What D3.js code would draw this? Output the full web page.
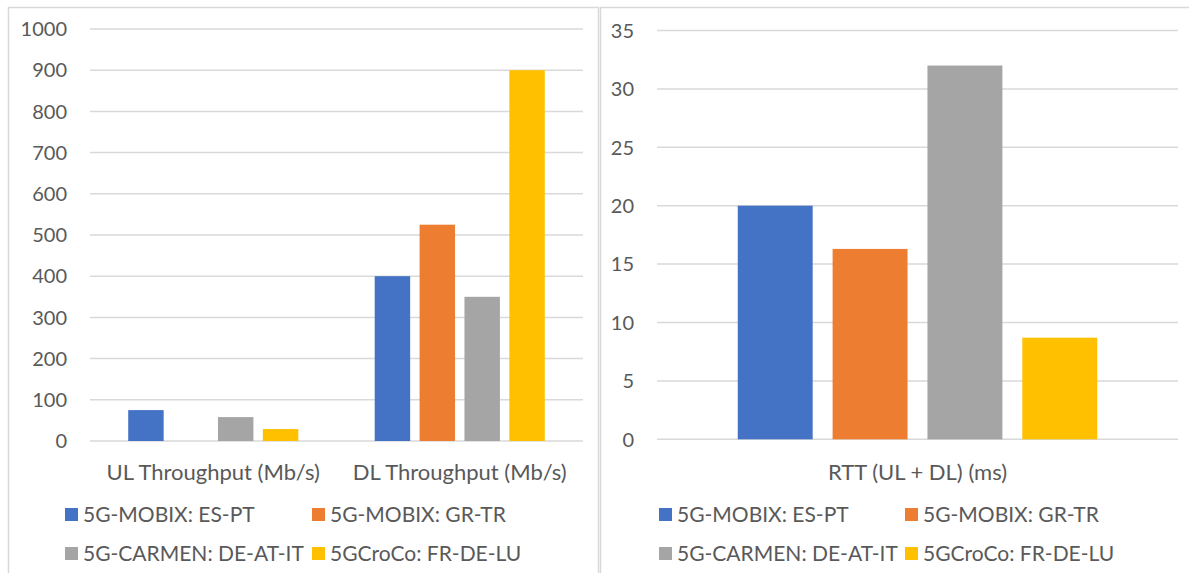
<!DOCTYPE html>
<meta charset='utf-8'>
<body style='margin:0;background:#fff'>
<script src='https://d3js.org/d3.v7.min.js'></script>
<script>
  // data
  const series = ['5G-MOBIX: ES-PT', '5G-MOBIX: GR-TR', '5G-CARMEN: DE-AT-IT', '5GCroCo: FR-DE-LU'];
  const colors = ['#4472C4', '#ED7D31', '#A5A5A5', '#FFC000'];

  const thrCategories = ['UL Throughput (Mb/s)', 'DL Throughput (Mb/s)'];
  const ulValues = [75, 0, 58, 29];
  const dlValues = [400, 525, 350, 900];
  const thrTicks = [0, 100, 200, 300, 400, 500, 600, 700, 800, 900, 1000];

  const rttCategories = ['RTT (UL + DL) (ms)'];
  const rttValues = [20, 16.3, 32, 8.7];
  const rttTicks = [0, 5, 10, 15, 20, 25, 30, 35];

  const W = 1189, H = 573;
  const font = 'Lato, "Open Sans", sans-serif';
  const textColor = '#595959';
  const gridColor = '#d9d9d9';

  const svg = d3.select('body').append('svg')
    .attr('width', W)
    .attr('height', H)
    .style('display', 'block')
    .style('font-family', font);

  // panel frames
  svg.append('rect')
    .attr('x', 8.5).attr('y', 7.5)
    .attr('width', 590).attr('height', 580)
    .attr('fill', 'none').attr('stroke', gridColor).attr('stroke-width', 1.5);
  svg.append('rect')
    .attr('x', 600.5).attr('y', 7.5)
    .attr('width', 600).attr('height', 580)
    .attr('fill', 'none').attr('stroke', gridColor).attr('stroke-width', 1.5);

  function panel(opts) {
    const { categories, values, ticks, yDomain, yRange, xRange, labelX, legendX } = opts;
    const g = svg.append('g');

    const y = d3.scaleLinear().domain(yDomain).range(yRange);
    const x0 = d3.scaleBand().domain(categories).range(xRange);
    const bw = x0.bandwidth();
    const x1 = d3.scaleBand().domain(series)
      .range([bw * 0.155, bw * 0.845])
      .paddingInner(0.21);

    // gridlines
    g.selectAll('line.grid')
      .data(ticks)
      .join('line')
      .attr('class', 'grid')
      .attr('x1', xRange[0]).attr('x2', xRange[1])
      .attr('y1', d => y(d)).attr('y2', d => y(d))
      .attr('stroke', gridColor)
      .attr('stroke-width', 1.5);

    // tick labels
    g.selectAll('text.tick')
      .data(ticks)
      .join('text')
      .attr('class', 'tick')
      .attr('x', labelX)
      .attr('y', d => y(d))
      .attr('dy', '0.36em')
      .attr('text-anchor', 'end')
      .attr('fill', textColor)
      .style('font-size', '20px')
      .text(d => d);

    // bars
    const groups = g.selectAll('g.cat')
      .data(categories)
      .join('g')
      .attr('class', 'cat')
      .attr('transform', d => `translate(${x0(d)},0)`);

    groups.selectAll('rect')
      .data((c, i) => series.map((s, j) => ({ s, j, v: values[i][j] })))
      .join('rect')
      .attr('x', d => x1(d.s))
      .attr('width', x1.bandwidth())
      .attr('y', d => y(d.v))
      .attr('height', d => y(0) - y(d.v))
      .attr('fill', d => colors[d.j]);

    // category labels
    g.selectAll('text.cat')
      .data(categories)
      .join('text')
      .attr('class', 'cat')
      .attr('x', d => x0(d) + bw / 2)
      .attr('y', 480)
      .attr('text-anchor', 'middle')
      .attr('fill', textColor)
      .style('font-size', '22px')
      .text(d => d);

    // legend, two per row
    const leg = g.selectAll('g.leg')
      .data(series)
      .join('g')
      .attr('class', 'leg')
      .attr('transform', (d, i) => `translate(${legendX[i % 2]},${i < 2 ? 508 : 547})`);
    leg.append('rect')
      .attr('width', 13).attr('height', 13)
      .attr('fill', (d, i) => colors[i]);
    leg.append('text')
      .attr('x', 18)
      .attr('y', 14)
      .attr('fill', textColor)
      .style('font-size', '21px')
      .text(d => d);
  }

  panel({
    categories: thrCategories,
    values: [ulValues, dlValues],
    ticks: thrTicks,
    yDomain: [0, 1000],
    yRange: [441, 29],
    xRange: [90, 583],
    labelX: 67,
    legendX: [65, 312]
  });

  panel({
    categories: rttCategories,
    values: [rttValues],
    ticks: rttTicks,
    yDomain: [0, 35],
    yRange: [439.3, 30.5],
    xRange: [657, 1178],
    labelX: 634,
    legendX: [659, 905]
  });
</script>
